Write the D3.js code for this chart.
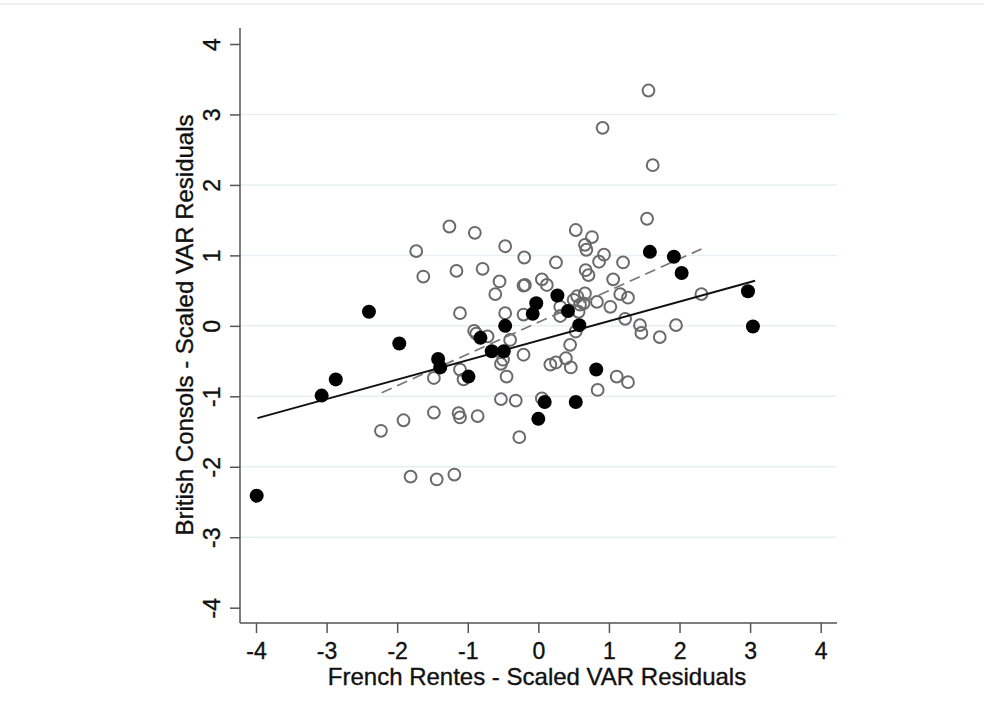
<!DOCTYPE html>
<html>
<head>
<meta charset="utf-8">
<script src="https://cdn.jsdelivr.net/npm/d3@7"></script>
<style>
    body { margin: 0; background: #fff; }
    text { font-family: "Liberation Sans", Arial, sans-serif; fill: #111; stroke: #111; stroke-width: 0.35px; }
</style>
</head>
<body>
<div id="svg"></div>
<script>
// hollow markers (gray) - x = French Rentes, y = British Consols
const openX = [-1.26, -0.90, -1.73, -0.47, -0.20, -1.63, -1.16, -0.79, -0.55, -0.61,
    -0.21, -0.19, -1.11, -0.47, -0.21, -0.91, -0.88, -0.72, -0.40, -0.21,
    -1.11, -1.06, -1.48, -0.45, -0.53, -0.50, -0.53, -0.32, -1.48, -1.13,
    -1.11, -0.86, -1.91, -2.23, -0.27, -1.81, -1.44, -1.19, 1.56, 0.91,
    1.62, 1.54, 0.53, 0.76, 0.66, 0.68, 0.93, 0.86, 1.20, 0.25,
    0.67, 0.71, 0.05, 1.06, 0.12, 1.16, 1.27, 2.31, 0.31, 0.31,
    0.50, 0.55, 0.66, 0.83, 0.59, 0.64, 1.02, 1.23, 0.57, 0.53,
    1.44, 1.46, 1.72, 1.95, 0.45, 0.39, 0.25, 0.17, 0.46, 1.11,
    1.27, 0.84, 0.05];
const openY = [1.41, 1.32, 1.06, 1.13, 0.97, 0.70, 0.78, 0.81, 0.63, 0.45,
    0.57, 0.58, 0.18, 0.18, 0.16, -0.07, -0.11, -0.15, -0.20, -0.41,
    -0.62, -0.76, -0.74, -0.72, -0.54, -0.48, -1.04, -1.06, -1.23, -1.24,
    -1.30, -1.28, -1.34, -1.49, -1.58, -2.14, -2.18, -2.11, 3.34, 2.81,
    2.28, 1.52, 1.36, 1.26, 1.15, 1.08, 1.01, 0.91, 0.90, 0.90,
    0.79, 0.72, 0.66, 0.66, 0.58, 0.45, 0.40, 0.45, 0.27, 0.14,
    0.37, 0.42, 0.46, 0.34, 0.30, 0.32, 0.27, 0.10, 0.20, -0.08,
    0.01, -0.10, -0.16, 0.01, -0.27, -0.46, -0.52, -0.55, -0.59, -0.72,
    -0.80, -0.91, -1.03];

// solid markers (black)
const filledX = [-3.99, -3.07, -2.87, -2.40, -1.97, -1.42, -1.39, -0.99, -0.82, -0.66,
    -0.49, -0.47, -0.03, -0.08, 0.27, 0.42, 0.58, 0.82, 0.09, 0.53,
    0.00, 1.58, 1.92, 2.03, 2.97, 3.04];
const filledY = [-2.41, -0.99, -0.76, 0.20, -0.25, -0.47, -0.59, -0.72, -0.17, -0.36,
    -0.36, 0.00, 0.32, 0.17, 0.43, 0.21, 0.01, -0.62, -1.08, -1.08,
    -1.32, 1.05, 0.98, 0.75, 0.49, -0.01];

// fitted lines (end points)
const fitSolidX = [-3.98, 3.07];
const fitSolidY = [-1.31, 0.64];
const fitDashX = [-2.22, 2.31];
const fitDashY = [-0.95, 1.09];

const xTicks = [-4, -3, -2, -1, 0, 1, 2, 3, 4];
const yTicks = [-4, -3, -2, -1, 0, 1, 2, 3, 4];
const gridTicks = [-3, -2, -1, 0, 1, 2, 3];

const xTitle = "French Rentes - Scaled VAR Residuals";
const yTitle = "British Consols - Scaled VAR Residuals";

class Chart {
    constructor() {
        let vis = this;
        vis.width = 984;
        vis.height = 715;
        vis.left = 240;
        vis.right = 837;
        vis.top = 28;
        vis.bottom = 623;

        vis.svg = d3.select("#svg")
            .append("svg")
            .attr("width", vis.width)
            .attr("height", vis.height);

        vis.x = d3.scaleLinear()
            .domain([-4, 4])
            .range([256, 820.7]);

        vis.y = d3.scaleLinear()
            .domain([-4, 4])
            .range([607.7, 44]);
    }

    draw() {
        let vis = this;

        // faint strip of the page above
        vis.svg.append("line")
            .attr("x1", 0).attr("x2", vis.width)
            .attr("y1", 4).attr("y2", 4)
            .attr("stroke", "#eeeeee")
            .attr("stroke-width", 2);

        // gridlines
        vis.svg.append("g")
            .selectAll("line")
            .data(gridTicks)
            .enter()
            .append("line")
            .attr("x1", vis.left)
            .attr("x2", vis.right)
            .attr("y1", d => vis.y(d))
            .attr("y2", d => vis.y(d))
            .attr("stroke", "#e6eff1")
            .attr("stroke-width", 1.5);

        // x axis
        let xAxis = d3.axisBottom(vis.x)
            .tickValues(xTicks)
            .tickSize(10)
            .tickPadding(10)
            .tickFormat(d => d < 0 ? "-" + Math.abs(d) : d);

        let gx = vis.svg.append("g")
            .attr("transform", "translate(0," + vis.bottom + ")")
            .call(xAxis);
        gx.select(".domain").remove();
        gx.selectAll("line").attr("stroke", "#555").attr("stroke-width", 1.5);
        gx.selectAll("text")
            .style("font-size", "23px")
            .style("font-family", "Liberation Sans, Arial, sans-serif")
            .attr("fill", "#111");

        // y axis, labels rotated like Stata
        let yAxis = d3.axisLeft(vis.y)
            .tickValues(yTicks)
            .tickSize(10)
            .tickFormat(d => d < 0 ? "-" + Math.abs(d) : d);

        let gy = vis.svg.append("g")
            .attr("transform", "translate(" + vis.left + ",0)")
            .call(yAxis);
        gy.select(".domain").remove();
        gy.selectAll("line").attr("stroke", "#555").attr("stroke-width", 1.5);
        gy.selectAll("text")
            .attr("x", 0)
            .attr("dy", 0)
            .attr("text-anchor", "middle")
            .attr("transform", "translate(-20,0) rotate(-90)")
            .style("font-size", "23px")
            .style("font-family", "Liberation Sans, Arial, sans-serif")
            .attr("fill", "#111");

        // axis lines
        vis.svg.append("line")
            .attr("x1", vis.left).attr("x2", vis.right)
            .attr("y1", vis.bottom).attr("y2", vis.bottom)
            .attr("stroke", "#555")
            .attr("stroke-width", 1.5);

        vis.svg.append("line")
            .attr("x1", vis.left).attr("x2", vis.left)
            .attr("y1", vis.top).attr("y2", vis.bottom)
            .attr("stroke", "#555")
            .attr("stroke-width", 1.5);

        // hollow circles
        vis.svg.append("g")
            .selectAll("circle")
            .data(openX)
            .enter()
            .append("circle")
            .attr("cx", d => vis.x(d))
            .attr("cy", (d, i) => vis.y(openY[i]))
            .attr("r", 5.9)
            .attr("fill", "none")
            .attr("stroke", "#6a6a6a")
            .attr("stroke-width", 2);

        // fitted lines
        let line = d3.line()
            .x(d => vis.x(d[0]))
            .y(d => vis.y(d[1]));

        vis.svg.append("path")
            .datum(d3.zip(fitDashX, fitDashY))
            .attr("d", line)
            .attr("fill", "none")
            .attr("stroke", "#777")
            .attr("stroke-width", 1.7)
            .style("stroke-dasharray", "11,6");

        vis.svg.append("path")
            .datum(d3.zip(fitSolidX, fitSolidY))
            .attr("d", line)
            .attr("fill", "none")
            .attr("stroke", "#111")
            .attr("stroke-width", 1.9);

        // solid circles
        vis.svg.append("g")
            .selectAll("circle")
            .data(filledX)
            .enter()
            .append("circle")
            .attr("cx", d => vis.x(d))
            .attr("cy", (d, i) => vis.y(filledY[i]))
            .attr("r", 7)
            .attr("fill", "#000");

        // titles
        vis.svg.append("text")
            .attr("x", 537)
            .attr("y", 685)
            .attr("text-anchor", "middle")
            .style("font-size", "24px")
            .text(xTitle);

        vis.svg.append("text")
            .attr("text-anchor", "middle")
            .attr("transform", "translate(193,325) rotate(-90)")
            .style("font-size", "24px")
            .text(yTitle);
    }
}

let chart = new Chart();
chart.draw();
</script>
</body>
</html>
